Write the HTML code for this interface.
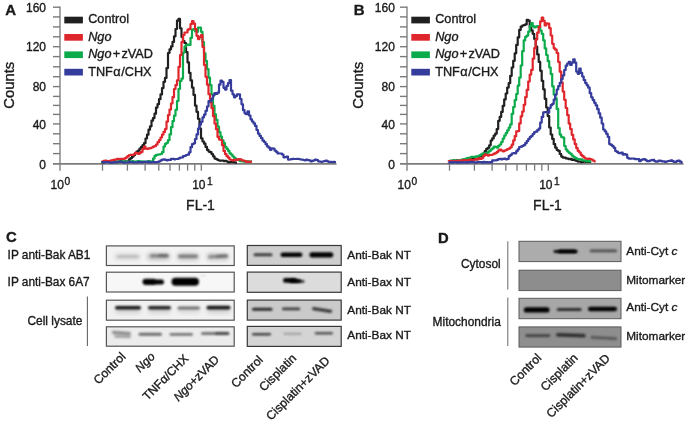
<!DOCTYPE html>
<html><head><meta charset="utf-8"><title>Figure</title>
<style>
html,body{margin:0;padding:0;background:#fff;}
body{width:685px;height:421px;overflow:hidden;}
svg{display:block;font-family:"Liberation Sans", sans-serif;filter:blur(0.35px);}
text{fill:#1a1a1a;stroke:#1a1a1a;stroke-width:0.35px;}
</style></head>
<body>
<svg width="685" height="421" viewBox="0 0 685 421">
<defs><filter id="b6" x="-50%" y="-300%" width="200%" height="700%"><feGaussianBlur stdDeviation="0.9"/></filter><filter id="b7" x="-50%" y="-300%" width="200%" height="700%"><feGaussianBlur stdDeviation="1.0"/></filter><filter id="b8" x="-50%" y="-300%" width="200%" height="700%"><feGaussianBlur stdDeviation="1.1"/></filter><filter id="b10" x="-50%" y="-300%" width="200%" height="700%"><feGaussianBlur stdDeviation="1.2"/></filter><filter id="b20" x="-50%" y="-300%" width="200%" height="700%"><feGaussianBlur stdDeviation="2.0"/></filter></defs>
<rect width="685" height="421" fill="#fff"/>
<line x1="60" y1="6.4" x2="60" y2="170.7" stroke="#8a8a8a" stroke-width="1.5"/>
<line x1="53" y1="163.8" x2="336.5" y2="163.8" stroke="#7c7c7c" stroke-width="1.7"/>
<line x1="53" y1="153.6" x2="60" y2="153.6" stroke="#7a7a7a" stroke-width="1.4"/>
<line x1="53" y1="143.7" x2="60" y2="143.7" stroke="#7a7a7a" stroke-width="1.4"/>
<line x1="53" y1="133.8" x2="60" y2="133.8" stroke="#7a7a7a" stroke-width="1.4"/>
<line x1="53" y1="123.9" x2="60" y2="123.9" stroke="#7a7a7a" stroke-width="1.4"/>
<line x1="53" y1="114.4" x2="60" y2="114.4" stroke="#7a7a7a" stroke-width="1.4"/>
<line x1="53" y1="105.4" x2="60" y2="105.4" stroke="#7a7a7a" stroke-width="1.4"/>
<line x1="53" y1="96.4" x2="60" y2="96.4" stroke="#7a7a7a" stroke-width="1.4"/>
<line x1="53" y1="86.6" x2="60" y2="86.6" stroke="#7a7a7a" stroke-width="1.4"/>
<line x1="53" y1="76.7" x2="60" y2="76.7" stroke="#7a7a7a" stroke-width="1.4"/>
<line x1="53" y1="66.8" x2="60" y2="66.8" stroke="#7a7a7a" stroke-width="1.4"/>
<line x1="53" y1="56.6" x2="60" y2="56.6" stroke="#7a7a7a" stroke-width="1.4"/>
<line x1="53" y1="46.7" x2="60" y2="46.7" stroke="#7a7a7a" stroke-width="1.4"/>
<line x1="53" y1="36.8" x2="60" y2="36.8" stroke="#7a7a7a" stroke-width="1.4"/>
<line x1="53" y1="26.9" x2="60" y2="26.9" stroke="#7a7a7a" stroke-width="1.4"/>
<line x1="53" y1="16.9" x2="60" y2="16.9" stroke="#7a7a7a" stroke-width="1.4"/>
<line x1="53" y1="7.2" x2="60" y2="7.2" stroke="#7a7a7a" stroke-width="1.4"/>
<text x="46" y="168.5" text-anchor="end" font-size="12">0</text>
<text x="46" y="128.6" text-anchor="end" font-size="12">40</text>
<text x="46" y="91.3" text-anchor="end" font-size="12">80</text>
<text x="46" y="51.4" text-anchor="end" font-size="12">120</text>
<text x="46" y="11.9" text-anchor="end" font-size="12">160</text>
<line x1="102.5" y1="164" x2="102.5" y2="170.7" stroke="#7a7a7a" stroke-width="1.3"/>
<line x1="127.4" y1="164" x2="127.4" y2="170.7" stroke="#7a7a7a" stroke-width="1.3"/>
<line x1="145.1" y1="164" x2="145.1" y2="170.7" stroke="#7a7a7a" stroke-width="1.3"/>
<line x1="158.8" y1="164" x2="158.8" y2="170.7" stroke="#7a7a7a" stroke-width="1.3"/>
<line x1="170.0" y1="164" x2="170.0" y2="170.7" stroke="#7a7a7a" stroke-width="1.3"/>
<line x1="179.4" y1="164" x2="179.4" y2="170.7" stroke="#7a7a7a" stroke-width="1.3"/>
<line x1="187.6" y1="164" x2="187.6" y2="170.7" stroke="#7a7a7a" stroke-width="1.3"/>
<line x1="194.8" y1="164" x2="194.8" y2="170.7" stroke="#7a7a7a" stroke-width="1.3"/>
<line x1="201.3" y1="164" x2="201.3" y2="170.7" stroke="#7a7a7a" stroke-width="1.3"/>
<text x="60.3" y="189.3" text-anchor="middle" font-size="12">10<tspan font-size="10.2" dx="0.5" dy="-4.5">0</tspan></text>
<text x="202.4" y="189.3" text-anchor="middle" font-size="12">10<tspan font-size="10.2" dx="1.4" dy="-4.6">1</tspan></text>
<text x="200.5" y="209.5" text-anchor="middle" font-size="14">FL-1</text>
<text transform="translate(14.3,85.3) rotate(-90)" text-anchor="middle" font-size="14.8">Counts</text>
<text x="5.3" y="14.5" font-size="15" font-weight="bold">A</text>
<rect x="64.3" y="16.7" width="18.6" height="6.7" fill="#202020"/>
<text x="88.2" y="23.4" font-size="12.7">Control</text>
<rect x="64.3" y="34.0" width="18.6" height="6.7" fill="#df262c"/>
<text x="88.2" y="40.8" font-size="12.7"><tspan font-style="italic">Ngo</tspan></text>
<rect x="64.3" y="51.4" width="18.6" height="6.7" fill="#0bab4b"/>
<text x="88.2" y="58.1" font-size="12.7"><tspan font-style="italic">Ngo</tspan><tspan dx="1.2">+</tspan><tspan dx="1.4">zVAD</tspan></text>
<rect x="64.3" y="68.8" width="18.6" height="6.7" fill="#363c9c"/>
<text x="88.2" y="75.5" font-size="12.7">TNF<tspan dx="0.4">&#945;</tspan><tspan dx="0.6">/CHX</tspan></text>
<path d="M102.0,161.7V162.3H103.5V162.2H105.0V161.7H106.5V161.9H108.0V161.8H109.5V162.0H111.0V162.1H112.5V161.4H114.0V161.3H115.5V162.0H117.0V161.6H118.5V161.9H120.0V161.2H121.5V161.6H123.0V161.8H124.5V161.3H126.0V161.9H127.5V161.3H129.0V159.3H130.5V158.1H132.0V156.7H133.5V155.2H135.0V153.1H136.5V151.7H138.0V150.7H139.5V148.6H141.0V146.9H142.5V145.2H144.0V143.2H145.5V138.5H147.0V134.7H148.5V129.7H150.0V126.3H151.5V120.7H153.0V118.1H154.5V113.7H156.0V107.6H157.5V104.2H159.0V99.2H160.5V94.4H162.0V88.1H163.5V81.8H165.0V77.9H166.5V68.1H168.0V53.0H169.5V49.3H171.0V46.4H172.5V41.9H174.0V36.3H175.5V29.0H177.0V20.6H178.5V18.9H180.0V28.3H181.5V37.0H183.0V41.1H184.5V43.0H186.0V52.1H187.5V62.4H189.0V72.8H190.5V80.4H192.0V87.6H193.5V94.9H195.0V105.6H196.5V111.8H198.0V118.8H199.5V128.6H201.0V138.3H202.5V141.5H204.0V143.7H205.5V146.9H207.0V149.9H208.5V151.6H210.0V152.2H211.5V154.0H213.0V156.3H214.5V158.6H216.0V159.1H217.5V160.0H219.0V160.6H220.5V160.6H222.0V160.5H223.5V161.1H225.0V160.9H226.5V161.5H228.0V162.3H229.5V162.1H231.0V162.1H232.5V162.1H234.0V162.4H235.5V162.6H237.0" fill="none" stroke="#202020" stroke-width="2.2" stroke-linejoin="round"/>
<path d="M102.0,161.8V162.0H103.5V161.8H105.0V162.0H106.5V162.0H108.0V161.5H109.5V161.4H111.0V162.2H112.5V161.6H114.0V161.6H115.5V162.2H117.0V161.7H118.5V162.1H120.0V161.7H121.5V161.8H123.0V161.4H124.5V161.8H126.0V162.0H127.5V161.7H129.0V161.8H130.5V161.7H132.0V161.2H133.5V161.8H135.0V161.6H136.5V161.3H138.0V161.1H139.5V161.8H141.0V161.4H142.5V161.6H144.0V161.7H145.5V161.6H147.0V161.7H148.5V161.2H150.0V161.6H151.5V161.3H153.0V158.6H154.5V155.9H156.0V154.9H157.5V154.6H159.0V154.4H160.5V154.0H162.0V152.2H163.5V146.6H165.0V143.8H166.5V142.8H168.0V140.2H169.5V134.4H171.0V127.2H172.5V121.1H174.0V115.7H175.5V109.8H177.0V101.0H178.5V89.0H180.0V81.0H181.5V78.6H183.0V52.6H184.5V46.4H186.0V45.0H187.5V44.7H189.0V44.9H190.5V37.8H192.0V29.7H193.5V29.0H195.0V31.5H196.5V31.8H198.0V27.7H199.5V27.5H201.0V31.8H202.5V42.2H204.0V53.4H205.5V61.2H207.0V69.1H208.5V77.7H210.0V85.2H211.5V94.3H213.0V105.9H214.5V114.4H216.0V119.8H217.5V126.5H219.0V132.2H220.5V136.6H222.0V140.3H223.5V143.2H225.0V146.9H226.5V148.9H228.0V150.8H229.5V153.4H231.0V154.6H232.5V156.5H234.0V157.9H235.5V159.3H237.0V159.6H238.5V160.2H240.0V161.2H241.5V160.9H243.0V161.6H244.5V161.7H246.0V161.3H247.5V161.4H249.0V161.5H250.5V161.6H252.0" fill="none" stroke="#0bab4b" stroke-width="2.2" stroke-linejoin="round"/>
<path d="M102.0,161.8V161.7H103.5V160.8H105.0V160.7H106.5V161.2H108.0V161.0H109.5V160.9H111.0V160.4H112.5V160.1H114.0V159.6H115.5V159.5H117.0V158.9H118.5V159.0H120.0V158.8H121.5V158.9H123.0V158.9H124.5V158.4H126.0V157.4H127.5V156.1H129.0V155.0H130.5V154.8H132.0V154.8H133.5V154.3H135.0V152.9H136.5V153.1H138.0V154.0H139.5V152.8H141.0V151.9H142.5V149.1H144.0V146.7H145.5V148.6H147.0V149.0H148.5V148.4H150.0V148.1H151.5V147.5H153.0V146.6H154.5V146.1H156.0V144.5H157.5V142.2H159.0V140.1H160.5V137.5H162.0V134.6H163.5V131.9H165.0V129.0H166.5V121.6H168.0V115.1H169.5V109.6H171.0V103.5H172.5V97.2H174.0V89.0H175.5V85.1H177.0V80.3H178.5V66.8H180.0V55.1H181.5V42.1H183.0V35.0H184.5V32.5H186.0V32.5H187.5V29.7H189.0V28.9H190.5V24.0H192.0V21.2H193.5V23.6H195.0V29.2H196.5V35.8H198.0V39.1H199.5V36.9H201.0V35.0H202.5V47.0H204.0V64.9H205.5V76.8H207.0V84.7H208.5V94.2H210.0V102.3H211.5V108.2H213.0V116.2H214.5V123.6H216.0V129.2H217.5V136.9H219.0V139.5H220.5V140.0H222.0V145.2H223.5V151.0H225.0V154.1H226.5V156.2H228.0V157.7H229.5V159.5H231.0V160.0H232.5V160.5H234.0V159.9H235.5V159.7H237.0V160.0H238.5V159.1H240.0V159.3H241.5V160.3H243.0V160.5H244.5V161.1H246.0V161.9H247.5V161.6H249.0V162.0H250.5V161.6H252.0" fill="none" stroke="#df262c" stroke-width="2.2" stroke-linejoin="round"/>
<path d="M102.0,162.2V162.0H103.5V162.3H105.0V162.1H106.5V162.0H108.0V162.3H109.5V162.6H111.0V162.6H112.5V162.6H114.0V162.1H115.5V162.3H117.0V162.1H118.5V162.0H120.0V161.9H121.5V162.0H123.0V162.6H124.5V162.5H126.0V162.5H127.5V162.5H129.0V161.9H130.5V162.0H132.0V162.3H133.5V162.4H135.0V162.5H136.5V162.5H138.0V161.8H139.5V162.2H141.0V162.3H142.5V162.1H144.0V161.8H145.5V162.1H147.0V161.7H148.5V162.4H150.0V162.4H151.5V162.1H153.0V161.8H154.5V162.4H156.0V162.1H157.5V161.9H159.0V161.3H160.5V160.4H162.0V159.7H163.5V159.3H165.0V159.9H166.5V160.3H168.0V159.9H169.5V159.9H171.0V158.8H172.5V158.8H174.0V159.3H175.5V159.0H177.0V159.0H178.5V158.3H180.0V157.6H181.5V157.5H183.0V156.2H184.5V155.8H186.0V155.0H187.5V154.7H189.0V152.3H190.5V147.2H192.0V144.2H193.5V143.3H195.0V139.0H196.5V134.4H198.0V128.5H199.5V124.7H201.0V121.8H202.5V117.3H204.0V114.7H205.5V110.8H207.0V106.5H208.5V101.2H210.0V101.3H211.5V98.6H213.0V95.4H214.5V93.1H216.0V94.0H217.5V92.7H219.0V84.7H220.5V80.7H222.0V81.9H223.5V87.8H225.0V89.6H226.5V85.9H228.0V83.2H229.5V80.2H231.0V90.7H232.5V94.3H234.0V97.3H235.5V95.9H237.0V94.3H238.5V94.4H240.0V99.0H241.5V104.3H243.0V110.2H244.5V113.3H246.0V114.2H247.5V111.3H249.0V115.5H250.5V119.3H252.0V121.5H253.5V123.4H255.0V125.9H256.5V130.0H258.0V133.6H259.5V135.9H261.0V138.2H262.5V140.7H264.0V142.0H265.5V144.2H267.0V146.4H268.5V147.7H270.0V149.8H271.5V148.3H273.0V148.5H274.5V150.6H276.0V151.8H277.5V153.4H279.0V153.5H280.5V153.5H282.0V154.5H283.5V157.3H285.0V157.1H286.5V156.6H288.0V159.6H289.5V159.5H291.0V159.2H292.5V158.8H294.0V159.0H295.5V159.0H297.0V158.9H298.5V159.0H300.0V159.5H301.5V159.6H303.0V160.0H304.5V160.3H306.0V159.5H307.5V160.1H309.0V160.3H310.5V161.5H312.0V160.8H313.5V160.3H315.0V159.7H316.5V160.0H318.0V161.3H319.5V161.6H321.0V161.8H322.5V161.5H324.0V161.1H325.5V160.5H327.0V161.3H328.5V161.9H330.0V161.9H331.5V162.1H333.0V161.9H334.5V162.0H336.0" fill="none" stroke="#363c9c" stroke-width="2.2" stroke-linejoin="round"/>
<line x1="407" y1="6.4" x2="407" y2="170.7" stroke="#8a8a8a" stroke-width="1.5"/>
<line x1="400" y1="163.8" x2="683.5" y2="163.8" stroke="#7c7c7c" stroke-width="1.7"/>
<line x1="400" y1="153.6" x2="407" y2="153.6" stroke="#7a7a7a" stroke-width="1.4"/>
<line x1="400" y1="143.7" x2="407" y2="143.7" stroke="#7a7a7a" stroke-width="1.4"/>
<line x1="400" y1="133.8" x2="407" y2="133.8" stroke="#7a7a7a" stroke-width="1.4"/>
<line x1="400" y1="123.9" x2="407" y2="123.9" stroke="#7a7a7a" stroke-width="1.4"/>
<line x1="400" y1="114.4" x2="407" y2="114.4" stroke="#7a7a7a" stroke-width="1.4"/>
<line x1="400" y1="105.4" x2="407" y2="105.4" stroke="#7a7a7a" stroke-width="1.4"/>
<line x1="400" y1="96.4" x2="407" y2="96.4" stroke="#7a7a7a" stroke-width="1.4"/>
<line x1="400" y1="86.6" x2="407" y2="86.6" stroke="#7a7a7a" stroke-width="1.4"/>
<line x1="400" y1="76.7" x2="407" y2="76.7" stroke="#7a7a7a" stroke-width="1.4"/>
<line x1="400" y1="66.8" x2="407" y2="66.8" stroke="#7a7a7a" stroke-width="1.4"/>
<line x1="400" y1="56.6" x2="407" y2="56.6" stroke="#7a7a7a" stroke-width="1.4"/>
<line x1="400" y1="46.7" x2="407" y2="46.7" stroke="#7a7a7a" stroke-width="1.4"/>
<line x1="400" y1="36.8" x2="407" y2="36.8" stroke="#7a7a7a" stroke-width="1.4"/>
<line x1="400" y1="26.9" x2="407" y2="26.9" stroke="#7a7a7a" stroke-width="1.4"/>
<line x1="400" y1="16.9" x2="407" y2="16.9" stroke="#7a7a7a" stroke-width="1.4"/>
<line x1="400" y1="7.2" x2="407" y2="7.2" stroke="#7a7a7a" stroke-width="1.4"/>
<text x="394.9" y="168.5" text-anchor="end" font-size="12">0</text>
<text x="394.9" y="128.6" text-anchor="end" font-size="12">40</text>
<text x="394.9" y="91.3" text-anchor="end" font-size="12">80</text>
<text x="394.9" y="51.4" text-anchor="end" font-size="12">120</text>
<text x="394.9" y="11.9" text-anchor="end" font-size="12">160</text>
<line x1="449.5" y1="164" x2="449.5" y2="170.7" stroke="#7a7a7a" stroke-width="1.3"/>
<line x1="474.4" y1="164" x2="474.4" y2="170.7" stroke="#7a7a7a" stroke-width="1.3"/>
<line x1="492.1" y1="164" x2="492.1" y2="170.7" stroke="#7a7a7a" stroke-width="1.3"/>
<line x1="505.8" y1="164" x2="505.8" y2="170.7" stroke="#7a7a7a" stroke-width="1.3"/>
<line x1="517.0" y1="164" x2="517.0" y2="170.7" stroke="#7a7a7a" stroke-width="1.3"/>
<line x1="526.4" y1="164" x2="526.4" y2="170.7" stroke="#7a7a7a" stroke-width="1.3"/>
<line x1="534.6" y1="164" x2="534.6" y2="170.7" stroke="#7a7a7a" stroke-width="1.3"/>
<line x1="541.8" y1="164" x2="541.8" y2="170.7" stroke="#7a7a7a" stroke-width="1.3"/>
<line x1="548.3" y1="164" x2="548.3" y2="170.7" stroke="#7a7a7a" stroke-width="1.3"/>
<text x="407.3" y="189.3" text-anchor="middle" font-size="12">10<tspan font-size="10.2" dx="0.5" dy="-4.5">0</tspan></text>
<text x="549.4" y="189.3" text-anchor="middle" font-size="12">10<tspan font-size="10.2" dx="1.4" dy="-4.6">1</tspan></text>
<text x="547.5" y="209.5" text-anchor="middle" font-size="14">FL-1</text>
<text transform="translate(363.2,85.3) rotate(-90)" text-anchor="middle" font-size="14.8">Counts</text>
<text x="353.7" y="14.5" font-size="15" font-weight="bold">B</text>
<rect x="411.3" y="16.7" width="18.6" height="6.7" fill="#202020"/>
<text x="435.2" y="23.4" font-size="12.7">Control</text>
<rect x="411.3" y="34.0" width="18.6" height="6.7" fill="#df262c"/>
<text x="435.2" y="40.8" font-size="12.7"><tspan font-style="italic">Ngo</tspan></text>
<rect x="411.3" y="51.4" width="18.6" height="6.7" fill="#0bab4b"/>
<text x="435.2" y="58.1" font-size="12.7"><tspan font-style="italic">Ngo</tspan><tspan dx="1.2">+</tspan><tspan dx="1.4">zVAD</tspan></text>
<rect x="411.3" y="68.8" width="18.6" height="6.7" fill="#363c9c"/>
<text x="435.2" y="75.5" font-size="12.7">TNF<tspan dx="0.4">&#945;</tspan><tspan dx="0.6">/CHX</tspan></text>
<path d="M448.7,161.6V161.6H450.2V161.5H451.7V161.5H453.2V161.2H454.7V161.2H456.2V160.3H457.7V160.6H459.2V160.9H460.7V160.5H462.2V160.6H463.7V159.7H465.2V159.9H466.7V159.6H468.2V159.7H469.7V159.6H471.2V159.0H472.7V159.1H474.2V159.0H475.7V159.4H477.2V158.6H478.7V156.6H480.2V155.8H481.7V154.2H483.2V153.6H484.7V151.1H486.2V148.9H487.7V147.8H489.2V145.3H490.7V140.5H492.2V138.4H493.7V135.6H495.2V133.7H496.7V129.1H498.2V120.8H499.7V116.9H501.2V111.9H502.7V105.8H504.2V99.4H505.7V93.5H507.2V87.6H508.7V83.2H510.2V75.8H511.7V67.5H513.2V60.8H514.7V53.3H516.2V44.9H517.7V37.4H519.2V29.9H520.7V26.7H522.2V25.5H523.7V25.1H525.2V24.4H526.7V19.9H528.2V20.6H529.7V27.0H531.2V30.3H532.7V33.8H534.2V38.9H535.7V46.6H537.2V54.4H538.7V61.9H540.2V70.8H541.7V80.8H543.2V89.3H544.7V98.8H546.2V107.5H547.7V116.1H549.2V127.5H550.7V134.5H552.2V138.9H553.7V144.2H555.2V147.7H556.7V150.0H558.2V150.9H559.7V154.0H561.2V156.6H562.7V157.6H564.2V157.5H565.7V158.4H567.2V158.7H568.7V159.2H570.2V158.8H571.7V160.0H573.2V159.7H574.7V160.3H576.2V160.9H577.7V161.6H579.2V161.5H580.7V162.1H582.2V161.8H583.7V161.7H585.2V161.8H586.7V161.8H588.2V161.8H589.7V161.9H591.2" fill="none" stroke="#202020" stroke-width="2.2" stroke-linejoin="round"/>
<path d="M448.7,161.1V161.1H450.2V160.7H451.7V160.5H453.2V160.2H454.7V160.8H456.2V160.6H457.7V160.8H459.2V160.3H460.7V160.2H462.2V159.3H463.7V159.3H465.2V158.8H466.7V158.1H468.2V157.8H469.7V157.6H471.2V156.8H472.7V156.8H474.2V156.9H475.7V156.3H477.2V156.6H478.7V155.7H480.2V155.0H481.7V153.8H483.2V153.4H484.7V153.8H486.2V153.2H487.7V152.2H489.2V150.9H490.7V149.5H492.2V148.4H493.7V146.6H495.2V146.9H496.7V147.7H498.2V145.8H499.7V144.5H501.2V142.0H502.7V138.6H504.2V135.6H505.7V133.1H507.2V130.3H508.7V127.6H510.2V124.4H511.7V113.8H513.2V107.0H514.7V100.1H516.2V94.0H517.7V85.7H519.2V77.6H520.7V65.5H522.2V51.2H523.7V40.4H525.2V36.8H526.7V35.6H528.2V31.7H529.7V26.2H531.2V23.0H532.7V26.3H534.2V27.5H535.7V26.7H537.2V26.0H538.7V26.9H540.2V30.5H541.7V33.8H543.2V40.4H544.7V48.4H546.2V55.0H547.7V61.2H549.2V67.5H550.7V74.1H552.2V86.3H553.7V94.6H555.2V98.4H556.7V108.9H558.2V128.2H559.7V134.6H561.2V137.1H562.7V137.6H564.2V146.0H565.7V149.5H567.2V151.4H568.7V152.8H570.2V153.8H571.7V155.6H573.2V156.8H574.7V157.8H576.2V158.6H577.7V159.2H579.2V159.3H580.7V159.4H582.2V160.4H583.7V160.3H585.2V160.8H586.7V161.4H588.2V161.1H589.7V161.3H591.2" fill="none" stroke="#0bab4b" stroke-width="2.2" stroke-linejoin="round"/>
<path d="M448.7,161.2V161.0H450.2V161.5H451.7V160.9H453.2V161.3H454.7V161.1H456.2V160.8H457.7V161.1H459.2V160.6H460.7V160.8H462.2V160.3H463.7V160.2H465.2V160.4H466.7V160.6H468.2V159.8H469.7V159.7H471.2V160.0H472.7V160.1H474.2V159.5H475.7V159.1H477.2V159.4H478.7V158.3H480.2V158.8H481.7V158.1H483.2V156.0H484.7V154.4H486.2V155.0H487.7V155.6H489.2V154.8H490.7V155.0H492.2V154.5H493.7V153.7H495.2V153.2H496.7V151.9H498.2V150.4H499.7V149.7H501.2V150.5H502.7V151.3H504.2V150.7H505.7V150.0H507.2V149.2H508.7V148.6H510.2V147.3H511.7V144.7H513.2V140.4H514.7V136.2H516.2V131.4H517.7V131.1H519.2V123.4H520.7V116.3H522.2V111.6H523.7V104.8H525.2V97.1H526.7V89.9H528.2V81.6H529.7V74.6H531.2V69.9H532.7V58.7H534.2V48.2H535.7V39.5H537.2V32.7H538.7V26.9H540.2V21.3H541.7V17.6H543.2V20.9H544.7V25.4H546.2V23.3H547.7V23.7H549.2V28.2H550.7V35.5H552.2V43.8H553.7V48.3H555.2V49.7H556.7V53.0H558.2V62.0H559.7V71.7H561.2V82.5H562.7V91.6H564.2V99.8H565.7V108.0H567.2V115.2H568.7V123.6H570.2V129.1H571.7V134.8H573.2V139.4H574.7V144.1H576.2V148.1H577.7V150.9H579.2V152.5H580.7V154.8H582.2V156.2H583.7V157.5H585.2V158.5H586.7V158.9H588.2V158.6H589.7V159.0H591.2V159.5H592.7V160.6H594.2V161.3H595.7" fill="none" stroke="#df262c" stroke-width="2.2" stroke-linejoin="round"/>
<path d="M448.7,162.4V162.6H450.2V162.2H451.7V162.6H453.2V162.2H454.7V162.3H456.2V162.6H457.7V162.2H459.2V162.6H460.7V162.4H462.2V162.4H463.7V162.4H465.2V162.2H466.7V162.6H468.2V162.0H469.7V162.2H471.2V161.9H472.7V162.2H474.2V162.3H475.7V162.6H477.2V162.2H478.7V162.0H480.2V162.1H481.7V162.6H483.2V161.9H484.7V162.4H486.2V162.1H487.7V162.4H489.2V162.1H490.7V162.4H492.2V160.3H493.7V160.3H495.2V160.4H496.7V159.9H498.2V159.2H499.7V158.8H501.2V159.3H502.7V158.9H504.2V158.6H505.7V159.3H507.2V159.0H508.7V156.2H510.2V155.0H511.7V153.5H513.2V153.2H514.7V153.3H516.2V151.2H517.7V149.3H519.2V147.0H520.7V146.7H522.2V145.8H523.7V145.1H525.2V143.2H526.7V141.1H528.2V139.1H529.7V137.2H531.2V135.8H532.7V134.0H534.2V132.1H535.7V131.7H537.2V130.2H538.7V128.6H540.2V122.6H541.7V116.9H543.2V112.3H544.7V112.2H546.2V112.1H547.7V112.7H549.2V108.0H550.7V105.2H552.2V103.8H553.7V99.6H555.2V94.6H556.7V89.5H558.2V86.2H559.7V82.9H561.2V79.1H562.7V75.4H564.2V70.0H565.7V65.7H567.2V63.5H568.7V61.9H570.2V64.9H571.7V62.6H573.2V59.4H574.7V62.6H576.2V71.6H577.7V73.8H579.2V68.7H580.7V72.9H582.2V76.5H583.7V80.1H585.2V83.1H586.7V85.3H588.2V87.7H589.7V93.2H591.2V97.3H592.7V100.1H594.2V102.8H595.7V105.4H597.2V109.2H598.7V113.4H600.2V117.7H601.7V123.5H603.2V129.5H604.7V131.3H606.2V133.8H607.7V136.8H609.2V144.1H610.7V144.9H612.2V146.2H613.7V147.8H615.2V151.0H616.7V151.9H618.2V153.1H619.7V153.2H621.2V152.5H622.7V154.6H624.2V154.2H625.7V154.7H627.2V157.8H628.7V158.7H630.2V158.7H631.7V158.5H633.2V158.6H634.7V159.1H636.2V159.1H637.7V159.2H639.2V161.2H640.7V160.0H642.2V159.4H643.7V159.2H645.2V160.0H646.7V161.2H648.2V161.2H649.7V160.5H651.2V160.1H652.7V159.9H654.2V161.1H655.7V161.7H657.2V161.4H658.7V160.6H660.2V160.8H661.7V161.3H663.2V161.3H664.7V162.0H666.2V161.5H667.7V161.0H669.2V160.9H670.7V160.4H672.2V161.1H673.7V162.0H675.2V161.8H676.7V160.9H678.2V160.7H679.7V161.7H681.2V162.3H682.7" fill="none" stroke="#363c9c" stroke-width="2.2" stroke-linejoin="round"/>
<text x="5.9" y="241.8" font-size="14.8" font-weight="bold">C</text>
<text x="7.6" y="259.2" font-size="11.85">IP anti-Bak AB1</text>
<text x="7.6" y="285.5" font-size="11.85">IP anti-Bax 6A7</text>
<text x="27.4" y="324.9" font-size="11.95">Cell lysate</text>
<line x1="87.4" y1="296.5" x2="87.4" y2="346" stroke="#666" stroke-width="1.1"/>
<rect x="106.4" y="245.9" width="127.8" height="19.6" fill="#f3f3f3"/>
<svg x="106.4" y="245.9" width="127.8" height="19.6" viewBox="106.4 245.9 127.8 19.6" overflow="hidden">
<rect x="114.5" y="253.8" width="26.0" height="6.0" rx="3.0" fill="#000" opacity="0.12" filter="url(#b20)" transform="rotate(0 127.5 256.8)"/>
<rect x="117.0" y="255.1" width="22.0" height="3.0" rx="1.5" fill="#000" opacity="0.12" filter="url(#b10)" transform="rotate(0 128.0 256.6)"/>
<rect x="147.0" y="252.9" width="23.0" height="7.0" rx="3.5" fill="#000" opacity="0.22" filter="url(#b20)" transform="rotate(0 158.5 256.4)"/>
<rect x="150.0" y="254.1" width="19.0" height="3.4" rx="1.7" fill="#000" opacity="0.3" filter="url(#b10)" transform="rotate(0 159.5 255.8)"/>
<rect x="158.0" y="254.1" width="10.0" height="3.0" rx="1.5" fill="#000" opacity="0.22" filter="url(#b10)" transform="rotate(0 163.0 255.6)"/>
<rect x="177.0" y="253.3" width="22.0" height="7.0" rx="3.5" fill="#000" opacity="0.22" filter="url(#b20)" transform="rotate(0 188.0 256.8)"/>
<rect x="178.0" y="254.6" width="20.0" height="3.4" rx="1.7" fill="#000" opacity="0.34" filter="url(#b10)" transform="rotate(0 188.0 256.3)"/>
<rect x="206.5" y="253.3" width="22.5" height="7.0" rx="3.5" fill="#000" opacity="0.2" filter="url(#b20)" transform="rotate(0 217.8 256.8)"/>
<rect x="208.0" y="254.7" width="20.0" height="3.2" rx="1.6" fill="#000" opacity="0.3" filter="url(#b10)" transform="rotate(-3 218.0 256.3)"/>
<rect x="216.0" y="254.4" width="12.0" height="3.0" rx="1.5" fill="#000" opacity="0.22" filter="url(#b10)" transform="rotate(-3 222.0 255.9)"/>
</svg>
<rect x="106.4" y="245.9" width="127.8" height="19.6" fill="none" stroke="#555555" stroke-width="1.2"/>
<rect x="106.4" y="272.2" width="127.8" height="19.8" fill="#f7f7f7"/>
<svg x="106.4" y="272.2" width="127.8" height="19.8" viewBox="106.4 272.2 127.8 19.8" overflow="hidden">
<rect x="142.5" y="278.7" width="13.5" height="6.2" rx="3.1" fill="#000" opacity="1.0" filter="url(#b6)" transform="rotate(0 149.2 281.8)"/>
<rect x="153.0" y="279.6" width="11.0" height="5.0" rx="2.5" fill="#000" opacity="1.0" filter="url(#b6)" transform="rotate(0 158.5 282.1)"/>
<rect x="171.5" y="277.7" width="27.5" height="8.0" rx="4.0" fill="#000" opacity="1.0" filter="url(#b6)" transform="rotate(0 185.2 281.7)"/>
<rect x="200.0" y="274.9" width="6.0" height="1.4" rx="0.7" fill="#000" opacity="0.12" filter="url(#b10)" transform="rotate(0 203.0 275.6)"/>
</svg>
<rect x="106.4" y="272.2" width="127.8" height="19.8" fill="none" stroke="#555555" stroke-width="1.2"/>
<rect x="106.4" y="300.2" width="127.8" height="20.0" fill="#f1f1f1"/>
<svg x="106.4" y="300.2" width="127.8" height="20.0" viewBox="106.4 300.2 127.8 20.0" overflow="hidden">
<rect x="115.0" y="306.5" width="26.0" height="7.0" rx="3.5" fill="#000" opacity="0.12" filter="url(#b20)" transform="rotate(0 128.0 310.0)"/>
<rect x="115.0" y="305.9" width="26.0" height="3.6" rx="1.8" fill="#000" opacity="0.9" filter="url(#b6)" transform="rotate(0 128.0 307.7)"/>
<rect x="148.0" y="306.5" width="23.0" height="7.0" rx="3.5" fill="#000" opacity="0.12" filter="url(#b20)" transform="rotate(0 159.5 310.0)"/>
<rect x="148.0" y="306.0" width="23.0" height="3.6" rx="1.8" fill="#000" opacity="0.85" filter="url(#b6)" transform="rotate(0 159.5 307.8)"/>
<rect x="177.5" y="307.0" width="22.5" height="6.0" rx="3.0" fill="#000" opacity="0.1" filter="url(#b20)" transform="rotate(0 188.8 310.0)"/>
<rect x="177.5" y="306.5" width="22.5" height="3.0" rx="1.5" fill="#000" opacity="0.5" filter="url(#b6)" transform="rotate(0 188.8 308.0)"/>
<rect x="206.5" y="306.5" width="24.0" height="7.0" rx="3.5" fill="#000" opacity="0.12" filter="url(#b20)" transform="rotate(0 218.5 310.0)"/>
<rect x="206.5" y="305.7" width="24.0" height="3.8" rx="1.9" fill="#000" opacity="0.9" filter="url(#b6)" transform="rotate(0 218.5 307.6)"/>
</svg>
<rect x="106.4" y="300.2" width="127.8" height="20.0" fill="none" stroke="#555555" stroke-width="1.2"/>
<rect x="106.4" y="326.8" width="127.8" height="19.4" fill="#ececec"/>
<svg x="106.4" y="326.8" width="127.8" height="19.4" viewBox="106.4 326.8 127.8 19.4" overflow="hidden">
<rect x="111.8" y="331.5" width="19.2" height="3.0" rx="1.5" fill="#000" opacity="0.45" filter="url(#b8)" transform="rotate(4 121.4 333.0)"/>
<rect x="114.0" y="335.1" width="17.0" height="3.0" rx="1.5" fill="#000" opacity="0.3" filter="url(#b10)" transform="rotate(2 122.5 336.6)"/>
<rect x="138.5" y="332.8" width="23.5" height="3.0" rx="1.5" fill="#000" opacity="0.55" filter="url(#b7)" transform="rotate(0 150.2 334.3)"/>
<rect x="169.5" y="333.0" width="23.5" height="2.8" rx="1.4" fill="#000" opacity="0.5" filter="url(#b7)" transform="rotate(0 181.2 334.4)"/>
<rect x="201.0" y="331.9" width="28.5" height="3.2" rx="1.6" fill="#000" opacity="0.5" filter="url(#b7)" transform="rotate(0 215.2 333.5)"/>
<rect x="215.0" y="332.1" width="14.0" height="2.6" rx="1.3" fill="#000" opacity="0.35" filter="url(#b7)" transform="rotate(0 222.0 333.4)"/>
</svg>
<rect x="106.4" y="326.8" width="127.8" height="19.4" fill="none" stroke="#555555" stroke-width="1.2"/>
<rect x="247.3" y="245.5" width="93.9" height="19.9" fill="#cecece"/>
<svg x="247.3" y="245.5" width="93.9" height="19.9" viewBox="247.3 245.5 93.9 19.9" overflow="hidden">
<rect x="253.5" y="253.3" width="19.0" height="3.0" rx="1.5" fill="#000" opacity="0.72" filter="url(#b7)" transform="rotate(0 263.0 254.8)"/>
<rect x="280.5" y="252.5" width="21.9" height="4.6" rx="2.3" fill="#000" opacity="1.0" filter="url(#b6)" transform="rotate(0 291.4 254.8)"/>
<rect x="309.4" y="252.2" width="23.9" height="5.2" rx="2.6" fill="#000" opacity="1.0" filter="url(#b6)" transform="rotate(0 321.4 254.8)"/>
</svg>
<rect x="247.3" y="245.5" width="93.9" height="19.9" fill="none" stroke="#383838" stroke-width="1.2"/>
<rect x="247.3" y="272.1" width="93.9" height="20.2" fill="#dcdcdc"/>
<svg x="247.3" y="272.1" width="93.9" height="20.2" viewBox="247.3 272.1 93.9 20.2" overflow="hidden">
<rect x="283.0" y="278.0" width="14.0" height="4.8" rx="2.4" fill="#000" opacity="1.0" filter="url(#b6)" transform="rotate(0 290.0 280.4)"/>
<rect x="289.0" y="279.1" width="12.0" height="3.6" rx="1.8" fill="#000" opacity="0.9" filter="url(#b6)" transform="rotate(0 295.0 280.9)"/>
<rect x="295.0" y="280.1" width="9.5" height="2.6" rx="1.3" fill="#000" opacity="0.8" filter="url(#b6)" transform="rotate(0 299.8 281.4)"/>
</svg>
<rect x="247.3" y="272.1" width="93.9" height="20.2" fill="none" stroke="#383838" stroke-width="1.2"/>
<rect x="247.3" y="300.1" width="93.9" height="20.0" fill="#cacaca"/>
<svg x="247.3" y="300.1" width="93.9" height="20.0" viewBox="247.3 300.1 93.9 20.0" overflow="hidden">
<rect x="252.0" y="307.8" width="20.5" height="3.0" rx="1.5" fill="#000" opacity="0.8" filter="url(#b6)" transform="rotate(0 262.2 309.3)"/>
<rect x="282.0" y="307.6" width="18.2" height="2.6" rx="1.3" fill="#000" opacity="0.7" filter="url(#b6)" transform="rotate(0 291.1 308.9)"/>
<rect x="311.9" y="308.6" width="20.4" height="2.8" rx="1.4" fill="#000" opacity="0.8" filter="url(#b6)" transform="rotate(9 322.1 310.0)"/>
</svg>
<rect x="247.3" y="300.1" width="93.9" height="20.0" fill="none" stroke="#383838" stroke-width="1.2"/>
<rect x="247.3" y="326.4" width="93.9" height="20.0" fill="#d4d4d4"/>
<svg x="247.3" y="326.4" width="93.9" height="20.0" viewBox="247.3 326.4 93.9 20.0" overflow="hidden">
<rect x="252.0" y="332.9" width="19.0" height="2.6" rx="1.3" fill="#000" opacity="0.7" filter="url(#b6)" transform="rotate(0 261.5 334.2)"/>
<rect x="283.4" y="332.7" width="18.3" height="2.2" rx="1.1" fill="#000" opacity="0.22" filter="url(#b8)" transform="rotate(0 292.5 333.8)"/>
<rect x="314.8" y="331.9" width="18.2" height="2.6" rx="1.3" fill="#000" opacity="0.62" filter="url(#b6)" transform="rotate(0 323.9 333.2)"/>
</svg>
<rect x="247.3" y="326.4" width="93.9" height="20.0" fill="none" stroke="#383838" stroke-width="1.2"/>
<text x="347.3" y="259.4" font-size="11.8">Anti-Bak NT</text>
<text x="347.3" y="285.6" font-size="11.8">Anti-Bax NT</text>
<text x="347.3" y="313.6" font-size="11.8">Anti-Bak NT</text>
<text x="347.3" y="339.4" font-size="11.8">Anti-Bax NT</text>
<text transform="translate(126.3,357.3) rotate(-45)" text-anchor="end" font-size="12.2">Control</text>
<text transform="translate(155.6,357.4) rotate(-45)" text-anchor="end" font-size="12.0"><tspan font-style="italic">Ngo</tspan></text>
<text transform="translate(189.2,359.4) rotate(-45)" text-anchor="end" font-size="12.0">TNF&#945;/CHX</text>
<text transform="translate(220.0,360.3) rotate(-45)" text-anchor="end" font-size="12.0"><tspan font-style="italic">Ngo</tspan>+zVAD</text>
<text transform="translate(263.7,360.6) rotate(-45)" text-anchor="end" font-size="12.2">Control</text>
<text transform="translate(297.0,359.0) rotate(-45)" text-anchor="end" font-size="12.2">Cisplatin</text>
<text transform="translate(330.5,361.5) rotate(-45)" text-anchor="end" font-size="12.2">Cisplatin+zVAD</text>
<text x="438.1" y="242.5" font-size="14.8" font-weight="bold">D</text>
<text x="460.9" y="267.9" font-size="11.95">Cytosol</text>
<text x="432.6" y="325.9" font-size="11.92">Mitochondria</text>
<line x1="507.8" y1="241.2" x2="507.8" y2="289.5" stroke="#777" stroke-width="1.1"/>
<line x1="507.8" y1="297.5" x2="507.8" y2="346" stroke="#777" stroke-width="1.1"/>
<rect x="519.0" y="241.3" width="102" height="20.3" fill="#acacac"/>
<svg x="519.0" y="241.3" width="102" height="20.3" viewBox="519.0 241.3 102 20.3" overflow="hidden">
<rect x="553.5" y="250.1" width="24.1" height="2.8" rx="1.4" fill="#000" opacity="0.95" filter="url(#b6)" transform="rotate(0 565.5 251.5)"/>
<rect x="558.0" y="249.5" width="18.5" height="3.8" rx="1.9" fill="#000" opacity="0.85" filter="url(#b6)" transform="rotate(0 567.2 251.4)"/>
<rect x="589.7" y="249.6" width="27.3" height="2.6" rx="1.3" fill="#000" opacity="0.55" filter="url(#b7)" transform="rotate(0 603.4 250.9)"/>
</svg>
<rect x="519.0" y="241.3" width="102" height="20.3" fill="none" stroke="#5a5a5a" stroke-width="1"/>
<rect x="519.0" y="270.2" width="102" height="20.4" fill="#8d8d8d"/>
<svg x="519.0" y="270.2" width="102" height="20.4" viewBox="519.0 270.2 102 20.4" overflow="hidden">
</svg>
<rect x="519.0" y="270.2" width="102" height="20.4" fill="none" stroke="#5a5a5a" stroke-width="1"/>
<rect x="519.0" y="298.3" width="102" height="20.4" fill="#a7a7a7"/>
<svg x="519.0" y="298.3" width="102" height="20.4" viewBox="519.0 298.3 102 20.4" overflow="hidden">
<rect x="523.8" y="307.2" width="25.7" height="5.4" rx="2.7" fill="#000" opacity="1.0" filter="url(#b6)" transform="rotate(0 536.6 309.9)"/>
<rect x="556.8" y="307.9" width="24.8" height="3.2" rx="1.6" fill="#000" opacity="0.75" filter="url(#b6)" transform="rotate(0 569.2 309.5)"/>
<rect x="588.0" y="306.7" width="29.0" height="4.6" rx="2.3" fill="#000" opacity="1.0" filter="url(#b6)" transform="rotate(0 602.5 309.0)"/>
</svg>
<rect x="519.0" y="298.3" width="102" height="20.4" fill="none" stroke="#5a5a5a" stroke-width="1"/>
<rect x="519.0" y="326.9" width="102" height="20.2" fill="#8e8e8e"/>
<svg x="519.0" y="326.9" width="102" height="20.2" viewBox="519.0 326.9 102 20.2" overflow="hidden">
<rect x="525.4" y="334.3" width="24.9" height="2.6" rx="1.3" fill="#000" opacity="0.55" filter="url(#b7)" transform="rotate(0 537.8 335.6)"/>
<rect x="556.0" y="333.4" width="29.7" height="3.6" rx="1.8" fill="#000" opacity="0.7" filter="url(#b7)" transform="rotate(2 570.9 335.2)"/>
<rect x="590.5" y="336.7" width="26.5" height="2.6" rx="1.3" fill="#000" opacity="0.45" filter="url(#b7)" transform="rotate(3 603.8 338.0)"/>
</svg>
<rect x="519.0" y="326.9" width="102" height="20.2" fill="none" stroke="#5a5a5a" stroke-width="1"/>
<text x="626.3" y="255.4" font-size="11.8">Anti-Cyt <tspan font-style="italic">c</tspan></text>
<text x="626.3" y="283.5" font-size="11.8">Mitomarker</text>
<text x="626.3" y="311.0" font-size="11.8">Anti-Cyt <tspan font-style="italic">c</tspan></text>
<text x="626.3" y="339.8" font-size="11.8">Mitomarker</text>
<text transform="translate(542.2,358.6) rotate(-45)" text-anchor="end" font-size="12.2">Control</text>
<text transform="translate(578.6,358.6) rotate(-45)" text-anchor="end" font-size="12.2">Cisplatin</text>
<text transform="translate(610.8,359.0) rotate(-45)" text-anchor="end" font-size="12.2">Cisplatin+zVAD</text>
</svg>
</body></html>
